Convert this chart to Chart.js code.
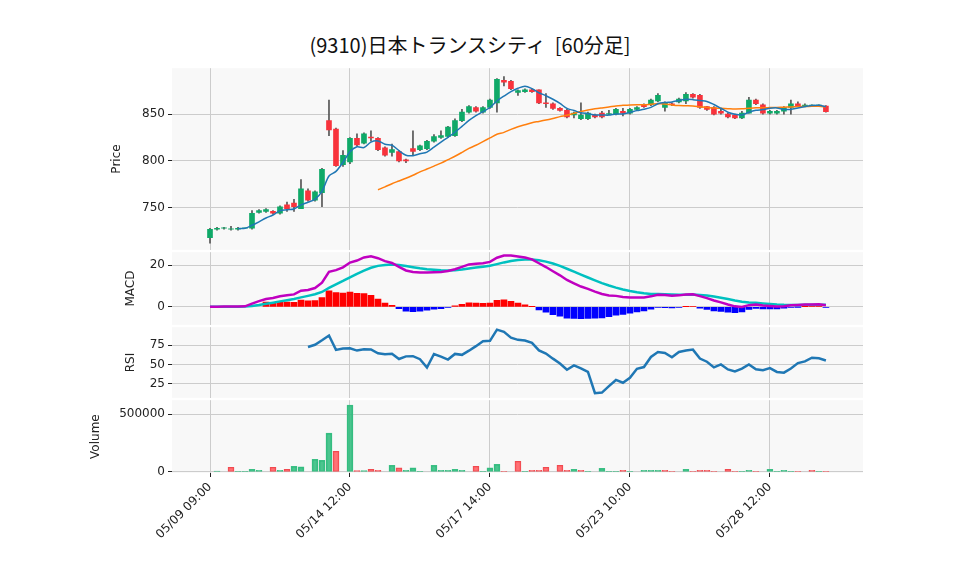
<!DOCTYPE html>
<html><head><meta charset="utf-8">
<script src="https://cdn.jsdelivr.net/npm/chart.js@4/dist/chart.umd.min.js"></script>
<style>
body{margin:0;background:#fff;width:958px;height:575px;position:relative;overflow:hidden}
canvas{position:absolute;left:0}
#title{position:absolute;top:30px;left:0;width:940px;text-align:center;font:20px "Noto Sans CJK JP","DejaVu Sans",sans-serif;color:#111}
</style></head><body>
<div id="title">(9310)日本トランスシティ&nbsp; [60分足]</div>
<div style="position:absolute;top:58px;width:958px;height:202px"><canvas id="price"></canvas></div>
<div style="position:absolute;top:242px;width:958px;height:93px"><canvas id="macd"></canvas></div>
<div style="position:absolute;top:317px;width:958px;height:91px"><canvas id="rsi"></canvas></div>
<div style="position:absolute;top:390px;width:958px;height:187px"><canvas id="vol"></canvas></div>
<script>
const tickIdx = [0, 20, 40, 60, 80];
const tickLabels = ['05/09 09:00', '05/14 12:00', '05/17 14:00', '05/23 10:00', '05/28 12:00'];

const opens = [718,727,728,727,727,728,728,745,746,746,744,753,755,749,768,758,766,843,834,796,
  799,824,819,825.5,824,814,809,810,801,813,812,813,821,825,826,827,843,852,857,852,
  857,862,886,885,873,874,876,876,862,861,856,854,849,845,845,849,851,850,850,853,
  851,855,860,860,864,857,861,863,864,871,870,858,857,853,850,849,846,851,865,860,
  851,851,853,857,861,859,859,859,858.5];
const closes = [727,728,728.5,727.5,728,728,744,747,748,744,751,749,751,770,758,767,791,833,795,806,
  824,817,829,824.5,812,806,812,800,800,810,816,821,826,827,836,843,852,858,853,857,
  865,887,884,877,875,876,874,862,861,856,854,847,851,849,851,847,847,850.5,855,851,
  855,857,858,865,870,862,860,866,871,868,857,855,850,851,847,846,851,865,861,851,
  853,853,857,861,859,859.5,859,859,852.5];
const highs = [728,729,729,730,729,728,747,748,749,747,752,756,759,780,770,768,792,865,835,811,
  825,829,830,832,825,815,818,811,802,832,817,822,828,832,837,845,855,859,858,858,
  866,888,890,886,876,877,877,876,872,862,857,855,852,862,852,850,853,854,856,856,
  856,858,861,866,872,863,862,867,873,872,871,858,858,855,851,850,853,868,866,861,
  854,854,858,865,863,861,860,860,859];
const lows = [712,726,727,726,726,728,727,744,745,743,743,746,746,749,757,757,751,827,794,794,
  797,816,818,821,811,805,805,799,798,806,811,812,820,824,825,826,842,851,852,851,
  856,852,880,876,870,873,873,861,857,855,853,846,846,844,844,846,846,849,849,848,
  850,854,857,859,863,853,859,862,861,867,856,854,849,850,846,845,845,851,860,850,
  850,850,850,850,858,858,858,858,852];
const volumes = [0,8700,0,40700,5800,5800,23300,14500,0,40700,14500,23300,49400,43600,0,110500,101700,337200,180200,0,
  581400,11600,11600,23300,14500,0,58100,34900,14500,34900,5800,0,58100,14500,14500,23300,14500,0,49400,5800,
  34900,66900,5800,0,93000,5800,14500,14500,40700,0,58100,14500,23300,14500,5800,0,32000,5800,5800,14500,
  5800,0,14500,14500,14500,14500,5800,0,23300,5800,14500,14500,5800,0,23300,5800,5800,14500,5800,0,
  23300,5800,14500,5800,5800,0,14500,5800,5800];

const GREEN = '#0fa968', RED = '#f8333c';
const idx = closes.map((_, i) => i);
const up = idx.map(i => closes[i] >= opens[i]);
const volUp = idx.map(i => i === 0 ? up[0] : closes[i] >= closes[i - 1]);

// indicators derived from closes
function sma(arr, p) { return arr.map((_, i) => i < p - 1 ? null : arr.slice(i - p + 1, i + 1).reduce((a, b) => a + b, 0) / p); }
function ema(arr, p) { const a = 2 / (p + 1); const out = []; arr.forEach((v, i) => out.push(i === 0 ? v : a * v + (1 - a) * out[i - 1])); return out; }
const ma5 = sma(closes, 5), ma25 = sma(closes, 25);
const e12 = ema(closes, 12), e26 = ema(closes, 26);
const macd = idx.map(i => e12[i] - e26[i]);
const signal = ema(macd, 9);
const hist = idx.map(i => i < 8 ? null : macd[i] - signal[i]);
const rsi = idx.map(i => {
  if (i < 14) return null;
  let g = 0, l = 0;
  for (let k = i - 13; k <= i; k++) { const d = closes[k] - closes[k - 1]; if (d > 0) g += d; else l -= d; }
  return l === 0 ? 100 : 100 - 100 / (1 + g / l);
});

const pts = arr => arr.map((v, i) => ({x: i, y: v}));
const FONT = {family: 'DejaVu Sans', size: 12};

const bgPlugin = {
  id: 'bg',
  beforeDraw(c) {
    const a = c.chartArea, ctx = c.ctx;
    ctx.save(); ctx.fillStyle = '#f8f8f8'; ctx.fillRect(a.left, a.top, a.right - a.left, a.bottom - a.top); ctx.restore();
  }
};

function makeChart(id, datasets, y, title, padLeft, showX) {
  return new Chart(document.getElementById(id), {
    type: 'bar',
    data: {datasets},
    plugins: [bgPlugin],
    options: {
      responsive: true, maintainAspectRatio: false, animation: false,
      layout: {autoPadding: false, padding: {left: padLeft, right: 95, top: 0, bottom: 0}},
      plugins: {legend: {display: false}, tooltip: {enabled: false}},
      scales: {
        x: {
          type: 'linear', min: -5.43, max: 93.3, offset: false,
          afterBuildTicks: s => { s.ticks = tickIdx.map(v => ({value: v})); },
          afterFit: s => { s.height = showX ? 104 : 0; },
          grid: {color: '#cccccc', drawTicks: showX, tickLength: 4, tickColor: '#222', offset: false},
          border: {display: false},
          ticks: {display: showX, font: FONT, color: '#222', maxRotation: 45, minRotation: 45, autoSkip: false,
            callback: v => tickLabels[tickIdx.indexOf(v)] || ''}
        },
        y: Object.assign({
          afterFit: s => { s.width = 172 - padLeft; },
          grid: {color: '#cccccc', tickLength: 4, tickColor: '#222'},
          border: {display: false},
          title: {display: true, text: title, font: FONT, color: '#222', padding: 0}
        }, y)
      }
    }
  });
}

const barBase = {grouped: false, barThickness: 5, borderSkipped: false};
const yt = {font: FONT, color: '#222', callback: v => String(v)};

makeChart('price', [
  {type: 'line', data: pts(ma5), borderColor: '#1f77b4', borderWidth: 1.5, pointRadius: 0, tension: 0.3, order: 0},
  {type: 'line', data: pts(ma25), borderColor: '#ff7f0e', borderWidth: 1.5, pointRadius: 0, tension: 0.3, order: 0},
  Object.assign({}, barBase, {data: idx.map(i => ({x: i, y: [opens[i], closes[i] === opens[i] ? closes[i] + 0.6 : closes[i]]})),
    backgroundColor: idx.map(i => up[i] ? GREEN : RED), order: 1}),
  {grouped: false, barThickness: 1, data: idx.map(i => ({x: i, y: [lows[i], highs[i]]})), backgroundColor: '#555', order: 2}
], {min: 705, max: 899, afterBuildTicks: s => { s.ticks = [750, 800, 850].map(v => ({value: v})); }, ticks: yt}, 'Price', 110, false);

makeChart('macd', [
  {type: 'line', data: pts(macd), borderColor: '#c000c0', borderWidth: 2.5, pointRadius: 0, order: 0},
  {type: 'line', data: pts(signal), borderColor: '#00c0c0', borderWidth: 2.5, pointRadius: 0, order: 0},
  Object.assign({}, barBase, {barThickness: 6, data: pts(hist), backgroundColor: hist.map(v => v >= 0 ? '#ff0000' : '#0000ff'), order: 1})
], {min: -8.6, max: 26.2, afterBuildTicks: s => { s.ticks = [0, 20].map(v => ({value: v})); }, ticks: yt}, 'MACD', 124, false);

makeChart('rsi', [
  {type: 'line', data: pts(rsi), borderColor: '#1f77b4', borderWidth: 2.5, pointRadius: 0, order: 0}
], {min: 7, max: 98, afterBuildTicks: s => { s.ticks = [25, 50, 75].map(v => ({value: v})); }, ticks: yt}, 'RSI', 124, false);

makeChart('vol', [
  Object.assign({}, barBase, {barThickness: 6, data: pts(volumes), borderWidth: 1,
    backgroundColor: idx.map(i => volUp[i] ? 'rgba(38,185,120,0.82)' : 'rgba(255,90,95,0.85)'),
    borderColor: idx.map(i => volUp[i] ? '#3cbf85' : '#f04a50')})
], {min: -9000, max: 623000, afterBuildTicks: s => { s.ticks = [0, 500000].map(v => ({value: v})); }, ticks: yt}, 'Volume', 89, true);
</script>
</body></html>
